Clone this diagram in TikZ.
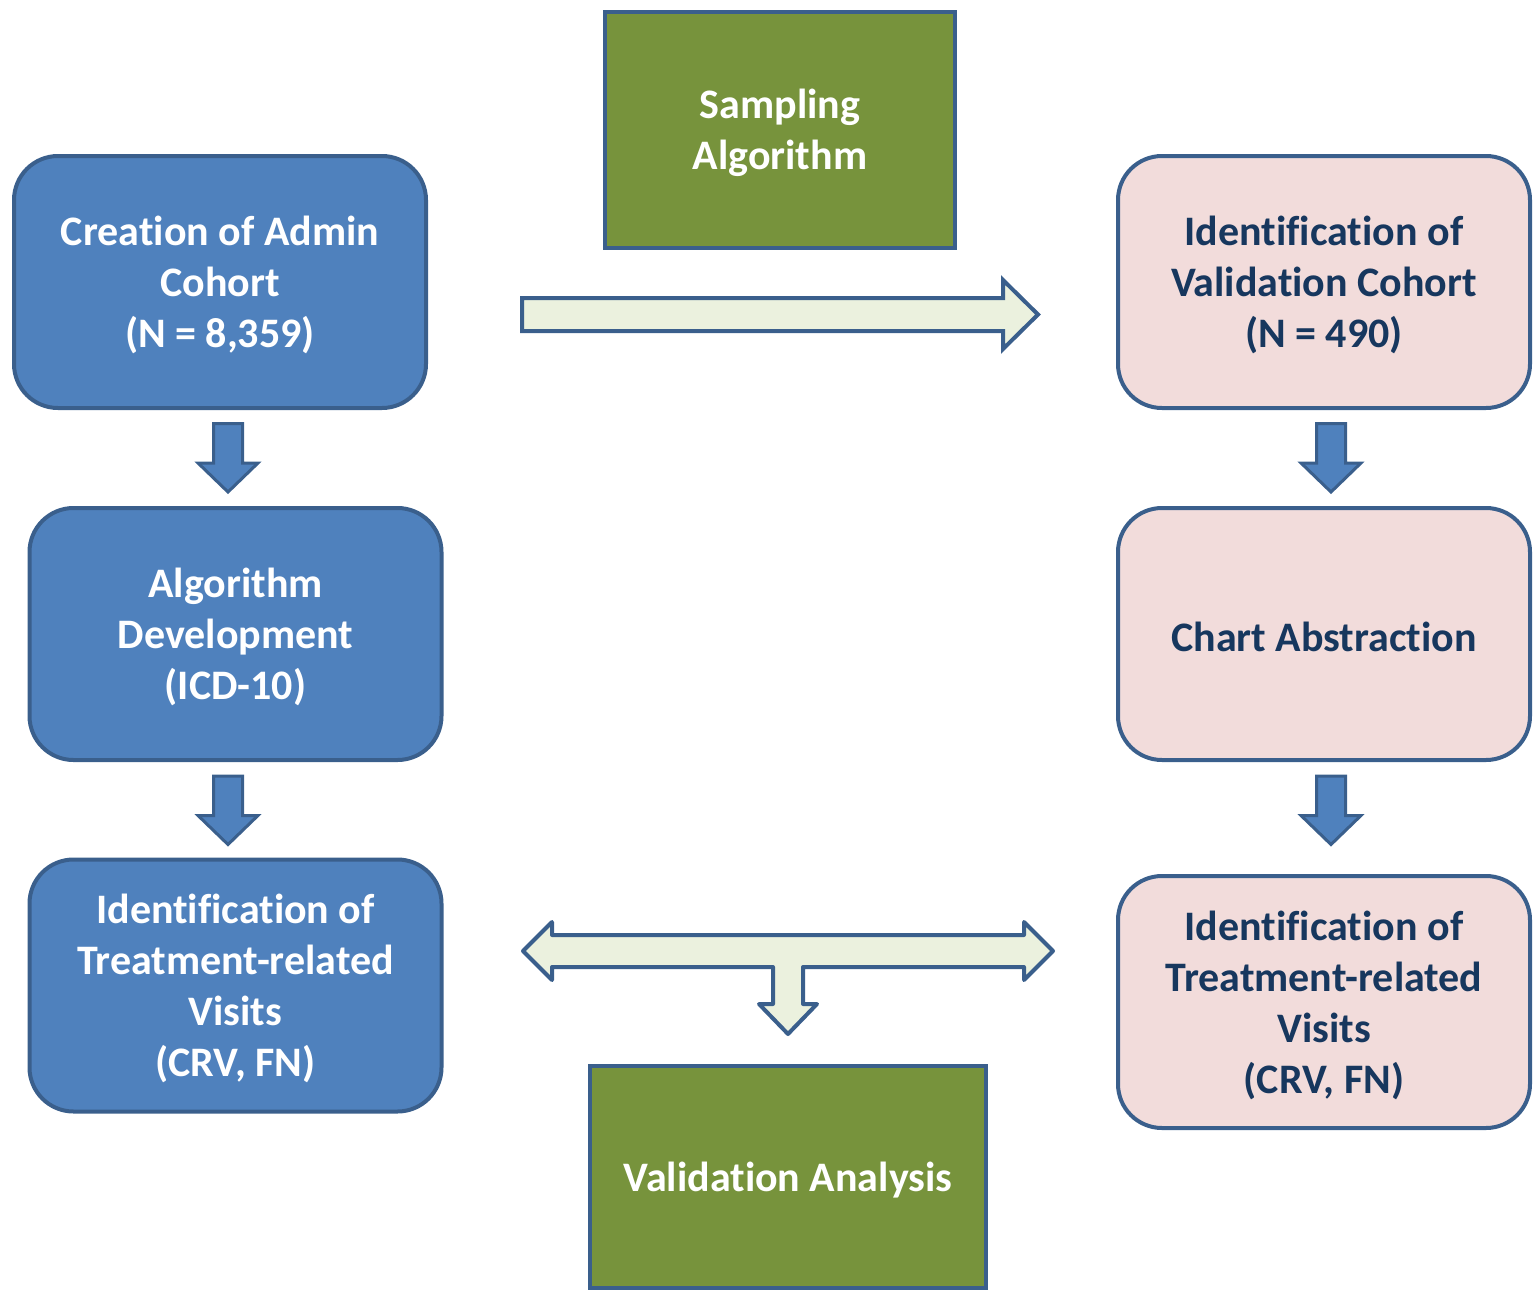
\documentclass[tikz,border=0pt]{standalone}
\usepackage{fontspec}
\setmainfont{Carlito}[Ligatures=NoCommon]
\usetikzlibrary{calc}
\definecolor{bluefill}{HTML}{4F81BD}
\definecolor{blueline}{HTML}{3A5F8C}
\definecolor{pinkfill}{HTML}{F2DCDB}
\definecolor{greenfill}{HTML}{77933C}
\definecolor{navytext}{HTML}{17375E}
\definecolor{lightfill}{HTML}{EBF1DE}
\begin{document}
\begin{tikzpicture}[x=1pt,y=-1pt,
  boxtext/.style={align=center, font=\fontsize{42}{51}\selectfont\bfseries, inner sep=0pt, yshift=-3pt},
  box/.style={draw=blueline, line width=4pt, rounded corners=44pt, minimum width=412pt, minimum height=252pt, inner sep=0pt},
  bluebox/.style={box, fill=bluefill},
  pinkbox/.style={box, fill=pinkfill},
  greenbox/.style={draw=blueline, line width=4pt, fill=greenfill, inner sep=0pt},
  whitetext/.style={boxtext, text=white},
  navytxt/.style={boxtext, text=navytext},
  blockdown/.style={fill=bluefill, draw=blueline, line width=3pt},
  lightarrow/.style={fill=lightfill, draw=blueline, line width=4pt, line join=round},
  downblock/.pic={\draw[blockdown] (-14.5,-34) -- (14.5,-34) -- (14.5,5.5) -- (30,5.5) -- (0,34.5) -- (-30,5.5) -- (-14.5,5.5) -- cycle;}
]
\useasboundingbox (0,0) rectangle (1535,1291);

% left column
\node[bluebox, label={[whitetext]center:{Creation of Admin\\Cohort\\(N = 8,359)}}] (admin) at (220,282) {};
\node[bluebox, label={[whitetext]center:{Algorithm\\Development\\(ICD-10)}}] (algdev) at (235.5,634) {};
\node[bluebox, label={[whitetext]center:{Identification of\\Treatment-related\\Visits\\(CRV, FN)}}] (idleft) at (235.5,985.5) {};

% right column
\node[pinkbox, label={[navytxt]center:{Identification of\\Validation Cohort\\(N = 490)}}] (valcoh) at (1324,282) {};
\node[pinkbox, label={[navytxt]center:{Chart Abstraction}}] (chart) at (1324,634) {};
\node[pinkbox, label={[navytxt]center:{Identification of\\Treatment-related\\Visits\\(CRV, FN)}}] (idright) at (1324,1002) {};

% green boxes
\node[greenbox, minimum width=350pt, minimum height=236pt, label={[whitetext]center:{Sampling\\Algorithm}}] (sampling) at (780,130) {};
\node[greenbox, minimum width=396pt, minimum height=222pt, label={[whitetext]center:{Validation Analysis}}] (valan) at (788,1177) {};

% down block arrows
\pic at (228,457.5) {downblock};
\pic at (228,810) {downblock};
\pic at (1331,457.5) {downblock};
\pic at (1331,810) {downblock};

% right light arrow (admin -> validation cohort)
\draw[lightarrow, line join=miter] (522,298) -- (1003,298) -- (1003,280) -- (1038,314.5) -- (1003,349) -- (1003,331) -- (522,331) -- cycle;

% T-shaped arrow
\draw[lightarrow] (523,951) -- (552,922) -- (552,935) -- (1024,935) -- (1024,922) -- (1053,951) -- (1024,980) -- (1024,967) -- (803,967) -- (803,1004) -- (817,1004) -- (788,1034) -- (759,1004) -- (773,1004) -- (773,967) -- (552,967) -- (552,980) -- cycle;
\end{tikzpicture}
\end{document}
